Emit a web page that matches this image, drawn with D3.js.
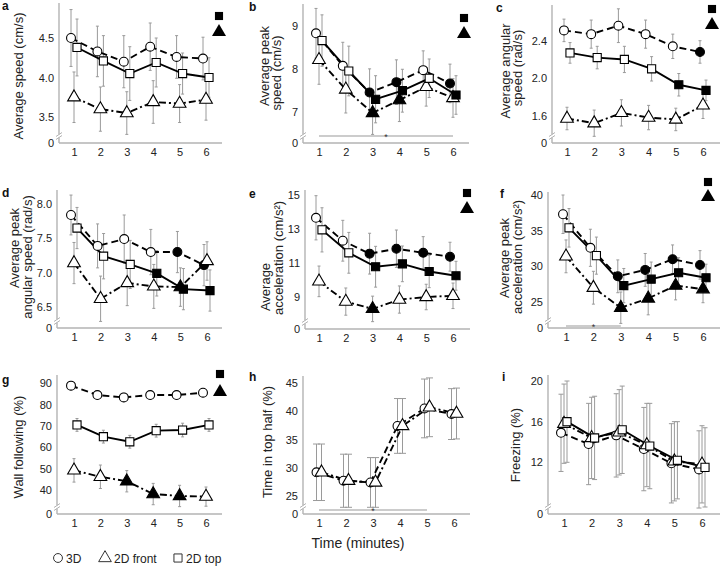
<!DOCTYPE html>
<html><head><meta charset="utf-8">
<script src="https://cdn.jsdelivr.net/npm/d3@7"></script>
<style>body{margin:0;background:#fff}svg{display:block;font-family:"Liberation Sans",Arial,sans-serif}</style>
</head><body><svg id="c" width="720" height="574"></svg>
<script>
const times=[1,2,3,4,5,6];
const seriesNames=["3D","2D front","2D top"];

// a: Average speed (cm/s)
const a3D=[4.50,4.33,4.20,4.39,4.26,4.24], a3DSe=[0.36,0.32,0.33,0.30,0.27,0.27], a3DSig=[0,0,0,0,0,0];
const aFront=[3.75,3.60,3.55,3.69,3.67,3.72], aFrontSe=[0.32,0.28,0.27,0.27,0.24,0.26], aFrontSig=[0,0,0,0,0,0];
const aTop=[4.38,4.21,4.05,4.19,4.05,4.00], aTopSe=[0.36,0.32,0.34,0.31,0.26,0.25], aTopSig=[0,0,0,0,0,0];
const aTicks=[3.5,4.0,4.5];
// b: Average peak speed (cm/s)
const b3D=[8.83,8.07,7.45,7.69,7.97,7.66], b3DSe=[0.58,0.55,0.55,0.52,0.45,0.45], b3DSig=[0,0,1,1,0,1];
const bFront=[8.21,7.52,6.97,7.27,7.58,7.32], bFrontSe=[0.57,0.55,0.5,0.5,0.45,0.45], bFrontSig=[0,0,1,1,0,0];
const bTop=[8.66,7.95,7.29,7.49,7.78,7.39], bTopSe=[0.6,0.58,0.55,0.5,0.45,0.45], bTopSig=[0,0,1,1,0,1];
const bTicks=[7,8,9];
// c: Average angular speed (rad/s)
const c3D=[2.51,2.47,2.56,2.47,2.34,2.28], c3DSe=[0.12,0.15,0.18,0.15,0.13,0.12], c3DSig=[0,0,0,0,0,1];
const cFront=[1.57,1.52,1.63,1.58,1.56,1.71], cFrontSe=[0.12,0.14,0.14,0.13,0.12,0.14], cFrontSig=[0,0,0,0,0,0];
const cTop=[2.27,2.22,2.20,2.10,1.93,1.87], cTopSe=[0.11,0.12,0.14,0.13,0.12,0.11], cTopSig=[0,0,0,0,1,1];
const cTicks=[1.6,2.0,2.4];
// d: Average peak angular speed (rad/s)
const d3D=[7.84,7.39,7.49,7.30,7.30,7.11], d3DSe=[0.29,0.32,0.35,0.33,0.3,0.3], d3DSig=[0,0,0,0,1,1];
const dFront=[7.14,6.62,6.85,6.80,6.79,7.17], dFrontSe=[0.3,0.33,0.33,0.32,0.28,0.28], dFrontSig=[0,0,0,0,1,0];
const dTop=[7.65,7.24,7.12,6.99,6.76,6.74], dTopSe=[0.3,0.33,0.35,0.33,0.3,0.3], dTopSig=[0,0,0,1,1,1];
const dTicks=[6.5,7.0,7.5,8.0];
// e: Average acceleration (cm/s2)
const e3D=[13.66,12.31,11.55,11.84,11.6,11.37], e3DSe=[1.3,1.2,1.2,1.1,0.95,0.85], e3DSig=[0,0,1,1,1,1];
const eFront=[9.92,8.73,8.3,8.85,9.0,9.07], eFrontSe=[0.9,0.8,0.75,0.8,0.75,0.75], eFrontSig=[0,0,1,0,0,0];
const eTop=[12.95,11.6,10.78,10.95,10.5,10.25], eTopSe=[1.3,1.2,1.2,1.05,0.95,0.85], eTopSig=[0,0,1,1,1,1];
const eTicks=[9,11,13,15];
// f: Average peak acceleration (cm/s2)
const f3D=[37.3,32.6,28.6,29.5,31.0,30.2], f3DSe=[2.7,2.6,2.3,2.3,2.0,2.0], f3DSig=[0,0,1,1,1,1];
const fFront=[31.4,27.0,24.2,25.5,27.3,26.8], fFrontSe=[2.3,2.3,2.2,2.3,2.0,1.9], fFrontSig=[0,0,1,1,1,1];
const fTop=[35.4,31.5,27.3,28.2,29.1,28.4], fTopSe=[2.7,2.6,2.4,2.4,2.1,1.9], fTopSig=[0,0,1,1,1,1];
const fTicks=[25,30,35,40];
// g: Wall following (%)
const g3D=[88.9,84.5,83.4,84.5,84.5,85.6], g3DSe=[2,2,2,2,2,2], g3DSig=[0,0,0,0,0,0];
const gFront=[49.2,46.2,44.1,38.1,37.2,36.9], gFrontSe=[5.5,5.5,5,5,5,4.5], gFrontSig=[0,0,1,1,1,0];
const gTop=[70.5,65.0,62.6,67.8,68.1,70.5], gTopSe=[3,3,3,3,3.2,3], gTopSig=[0,0,0,0,0,0];
const gTicks=[40,50,60,70,80,90];
// h: Time in top half (%)
const h3D=[29.2,27.7,27.4,37.4,40.5,39.5], h3DSe=[5.0,4.7,4.4,4.85,5.2,4.5], h3DSig=[0,0,0,0,0,0];
const hFront=[29.2,27.7,27.4,37.4,40.7,39.6], hFrontSe=[5.0,4.7,4.4,4.85,5.2,4.5], hFrontSig=[0,0,0,0,0,0];
const hTicks=[25,30,35,40,45];
// i: Freezing (%)
const i3D=[14.9,13.8,14.65,13.3,11.9,11.3], i3DSe=[3.8,4.0,4.1,4.1,3.9,3.8], i3DSig=[0,0,0,0,0,0];
const iFront=[15.8,14.4,14.95,13.7,12.1,11.8], iFrontSe=[3.9,4.0,4.2,4.1,3.9,3.8], iFrontSig=[0,0,0,0,0,0];
const iTop=[16.0,14.4,15.2,13.6,12.2,11.5], iTopSe=[4.0,4.1,4.3,4.2,3.8,3.9], iTopSig=[0,0,0,0,0,0];
const iTicks=[12,16,20];

const svg=d3.select("#c");
const S3D={shape:"circle",dash:"7,4"}, SFR={shape:"triangle",dash:"7,3,2,3"}, STP={shape:"square",dash:null};
function ser(st,v,se,sig,off){return Object.assign({v,se,sig,off},st);}

// y label entries: [text, baseline x, centre y]
const panels=[
 {id:"a",lx:2,ly:10,x1:74,x6:206,ax:59,ay:143,top:3,right:222,ref:[3.5,117,4.5,38],ticks:aTicks,fmt:".1f",
  ylab:[["Average speed (cm/s)",22.5,76]],mk:[219,16,32],
  series:[ser(S3D,a3D,a3DSe,a3DSig,-3),ser(SFR,aFront,aFrontSe,aFrontSig,0),ser(STP,aTop,aTopSe,aTopSig,3)]},
 {id:"b",lx:249,ly:11,x1:319,x6:453,ax:303,ay:143,top:4,right:469,ref:[7,111.7,9,26],ticks:bTicks,fmt:"d",
  ylab:[["Average peak",268.5,66],["speed (cm/s)",281,73]],mk:[464,18,34],sigLine:[1,6,136],
  series:[ser(S3D,b3D,b3DSe,b3DSig,-3),ser(SFR,bFront,bFrontSe,bFrontSig,0),ser(STP,bTop,bTopSe,bTopSig,3)]},
 {id:"c",lx:496,ly:12,x1:567,x6:703,ax:552,ay:143,top:5,right:720,ref:[1.6,115.7,2.4,40.7],ticks:cTicks,fmt:".1f",
  ylab:[["Average angular",509.5,71],["speed (rad/s)",522,68]],mk:[712,9,25],
  series:[ser(S3D,c3D,c3DSe,c3DSig,-3),ser(SFR,cFront,cFrontSe,cFrontSig,0),ser(STP,cTop,cTopSe,cTopSig,3)]},
 {id:"d",lx:2,ly:197,x1:74,x6:207,ax:57,ay:328,top:190,right:222,ref:[6.5,307,8.0,204],ticks:dTicks,fmt:".1f",
  ylab:[["Average peak",19,248],["angular speed (rad/s)",31.5,257]],mk:null,
  series:[ser(S3D,d3D,d3DSe,d3DSig,-3),ser(SFR,dFront,dFrontSe,dFrontSig,0),ser(STP,dTop,dTopSe,dTopSig,3)]},
 {id:"e",lx:249,ly:198,x1:319,x6:453,ax:305,ay:329,top:190,right:470,ref:[9,297,15,195],ticks:eTicks,fmt:"d",
  ylab:[["Average",270,287],["acceleration (cm/s\u00b2)",282.5,258]],mk:[467,193,209],
  series:[ser(S3D,e3D,e3DSe,e3DSig,-3),ser(SFR,eFront,eFrontSe,eFrontSig,0),ser(STP,eTop,eTopSe,eTopSig,3)]},
 {id:"f",lx:500,ly:198,x1:566,x6:703,ax:548,ay:328,top:192,right:720,ref:[25,302,40,195],ticks:fTicks,fmt:"d",
  ylab:[["Average peak",509,258],["acceleration (cm/s\u00b2)",521.5,257]],mk:[708,182,197],sigLine:[1,3,326],
  series:[ser(S3D,f3D,f3DSe,f3DSig,-3),ser(SFR,fFront,fFrontSe,fFrontSig,0),ser(STP,fTop,fTopSe,fTopSig,3)]},
 {id:"g",lx:2,ly:384,x1:74,x6:206,ax:57,ay:514,top:375,right:222,ref:[40,490,90,383.3],ticks:gTicks,fmt:"d",
  ylab:[["Wall following (%)",23,447]],mk:[220,374,392],
  series:[ser(S3D,g3D,g3DSe,g3DSig,-3),ser(SFR,gFront,gFrontSe,gFrontSig,0),ser(STP,gTop,gTopSe,gTopSig,3)]},
 {id:"h",lx:249,ly:381,x1:319,x6:454,ax:303,ay:514,top:376,right:470,ref:[25,496,45,383],ticks:hTicks,fmt:"d",cap:7,
  ylab:[["Time in top half (%)",271.5,442]],mk:null,sigLine:[1,5,510],xlab:["Time (minutes)",358,548],
  series:[ser(S3D,h3D,h3DSe,h3DSig,-2.5),ser(SFR,hFront,hFrontSe,hFrontSig,2.5)]},
 {id:"i",lx:502,ly:381,x1:564,x6:702,ax:548,ay:514,top:375,right:720,ref:[12,462.3,20,381],ticks:iTicks,fmt:"d",cap:5,
  ylab:[["Freezing (%)",520,445]],mk:null,
  series:[ser(S3D,i3D,i3DSe,i3DSig,-3),ser(SFR,iFront,iFrontSe,iFrontSig,0),ser(STP,iTop,iTopSe,iTopSig,3)]}
];

const AX="#b3b3b3", TXT="#222";
function sym(shape){
  if(shape==="circle") return d3.symbol(d3.symbolCircle,62)();
  if(shape==="square") return d3.symbol(d3.symbolSquare,66)();
  return d3.symbol(d3.symbolTriangle,70)();
}

panels.forEach(p=>{
  const g=svg.append("g");
  const x=d3.scaleLinear().domain([1,6]).range([p.x1,p.x6]);
  const y=d3.scaleLinear().domain([p.ref[0],p.ref[2]]).range([p.ref[1],p.ref[3]]);
  g.append("line").attr("x1",p.ax).attr("x2",p.ax).attr("y1",p.top).attr("y2",p.ay).attr("stroke",AX).attr("stroke-width",1.4);
  g.append("line").attr("x1",p.ax).attr("x2",p.right).attr("y1",p.ay).attr("y2",p.ay).attr("stroke",AX).attr("stroke-width",1.4);
  const ya=g.append("g").attr("transform",`translate(${p.ax},0)`)
    .call(d3.axisLeft(y).tickValues(p.ticks).tickSize(0).tickPadding(5).tickFormat(d3.format(p.fmt)));
  ya.select(".domain").remove();
  ya.selectAll("text").attr("font-size",11).attr("fill",TXT).attr("font-family","Liberation Sans, Arial, sans-serif");
  const xa=g.append("g").attr("transform",`translate(0,${p.ay})`)
    .call(d3.axisBottom(x).tickValues(times).tickSize(0).tickPadding(5).tickFormat(d3.format("d")));
  xa.select(".domain").remove();
  xa.selectAll("text").attr("font-size",11).attr("fill",TXT).attr("font-family","Liberation Sans, Arial, sans-serif");
  g.append("text").attr("x",p.ax-5).attr("y",p.ay+4).attr("text-anchor","end").attr("font-size",11).attr("fill",TXT).text("0");
  const by=p.ay-7;
  g.append("rect").attr("x",p.ax-2).attr("y",by-1.5).attr("width",4).attr("height",3).attr("fill","#fff");
  [-1.5,1.5].forEach(o=>g.append("line").attr("x1",p.ax-3).attr("x2",p.ax+3).attr("y1",by+o+2).attr("y2",by+o-2).attr("stroke",AX).attr("stroke-width",1));
  g.append("text").attr("x",p.lx).attr("y",p.ly).attr("font-size",12).attr("font-weight","bold").attr("fill","#111").text(p.id);
  p.ylab.forEach(l=>g.append("text").attr("transform",`translate(${l[1]},${l[2]}) rotate(-90)`)
     .attr("text-anchor","middle").attr("font-size",13).attr("fill",TXT).text(l[0]));
  if(p.xlab) g.append("text").attr("x",p.xlab[1]).attr("y",p.xlab[2]).attr("text-anchor","middle").attr("font-size",14).attr("fill",TXT).text(p.xlab[0]);
  if(p.sigLine){
    const [s0,s1,sy]=p.sigLine;
    g.append("line").attr("x1",x(s0)).attr("x2",x(s1)).attr("y1",sy).attr("y2",sy).attr("stroke","#999").attr("stroke-width",1);
    g.append("text").attr("x",x((s0+s1)/2)).attr("y",sy+4).attr("text-anchor","middle").attr("font-size",9).attr("fill","#333").text("*");
  }
  const cap=(p.cap||3)/2;
  p.series.forEach(s=>{
    times.forEach((t,k)=>{
      const cx=x(t)+s.off, y0=y(s.v[k]-s.se[k]), y1=y(s.v[k]+s.se[k]);
      g.append("line").attr("x1",cx).attr("x2",cx).attr("y1",y0).attr("y2",y1).attr("stroke","#9a9a9a").attr("stroke-width",1);
      [y0,y1].forEach(yy=>g.append("line").attr("x1",cx-cap).attr("x2",cx+cap).attr("y1",yy).attr("y2",yy).attr("stroke","#9a9a9a").attr("stroke-width",1));
    });
  });
  p.series.forEach(s=>{
    const line=d3.line().x((d,k)=>x(times[k])+s.off).y(d=>y(d));
    g.append("path").attr("d",line(s.v)).attr("fill","none").attr("stroke","#000").attr("stroke-width",1.9)
      .attr("stroke-dasharray",s.dash);
  });
  p.series.forEach(s=>{
    times.forEach((t,k)=>{
      g.append("path").attr("d",sym(s.shape)).attr("transform",`translate(${x(t)+s.off},${y(s.v[k])})`)
        .attr("fill",s.sig[k]?"#000":"#fff").attr("stroke","#000").attr("stroke-width",1.1);
    });
  });
  if(p.mk){
    g.append("path").attr("d",sym("square")).attr("transform",`translate(${p.mk[0]},${p.mk[1]})`).attr("fill","#000");
    g.append("path").attr("d",d3.symbol(d3.symbolTriangle,85)()).attr("transform",`translate(${p.mk[0]},${p.mk[2]})`).attr("fill","#000");
  }
});

const legY=558;
const legItems=[{shape:"circle",x:58,tx:66},{shape:"triangle",x:105,tx:114},{shape:"square",x:178,tx:186}];
legItems.forEach((it,k)=>{
  svg.append("path").attr("d",sym(it.shape)).attr("transform",`translate(${it.x},${legY})`).attr("fill","#fff").attr("stroke","#333").attr("stroke-width",1);
  svg.append("text").attr("x",it.tx).attr("y",legY+4.5).attr("font-size",12).attr("fill",TXT).text(seriesNames[k]);
});
</script></body></html>
